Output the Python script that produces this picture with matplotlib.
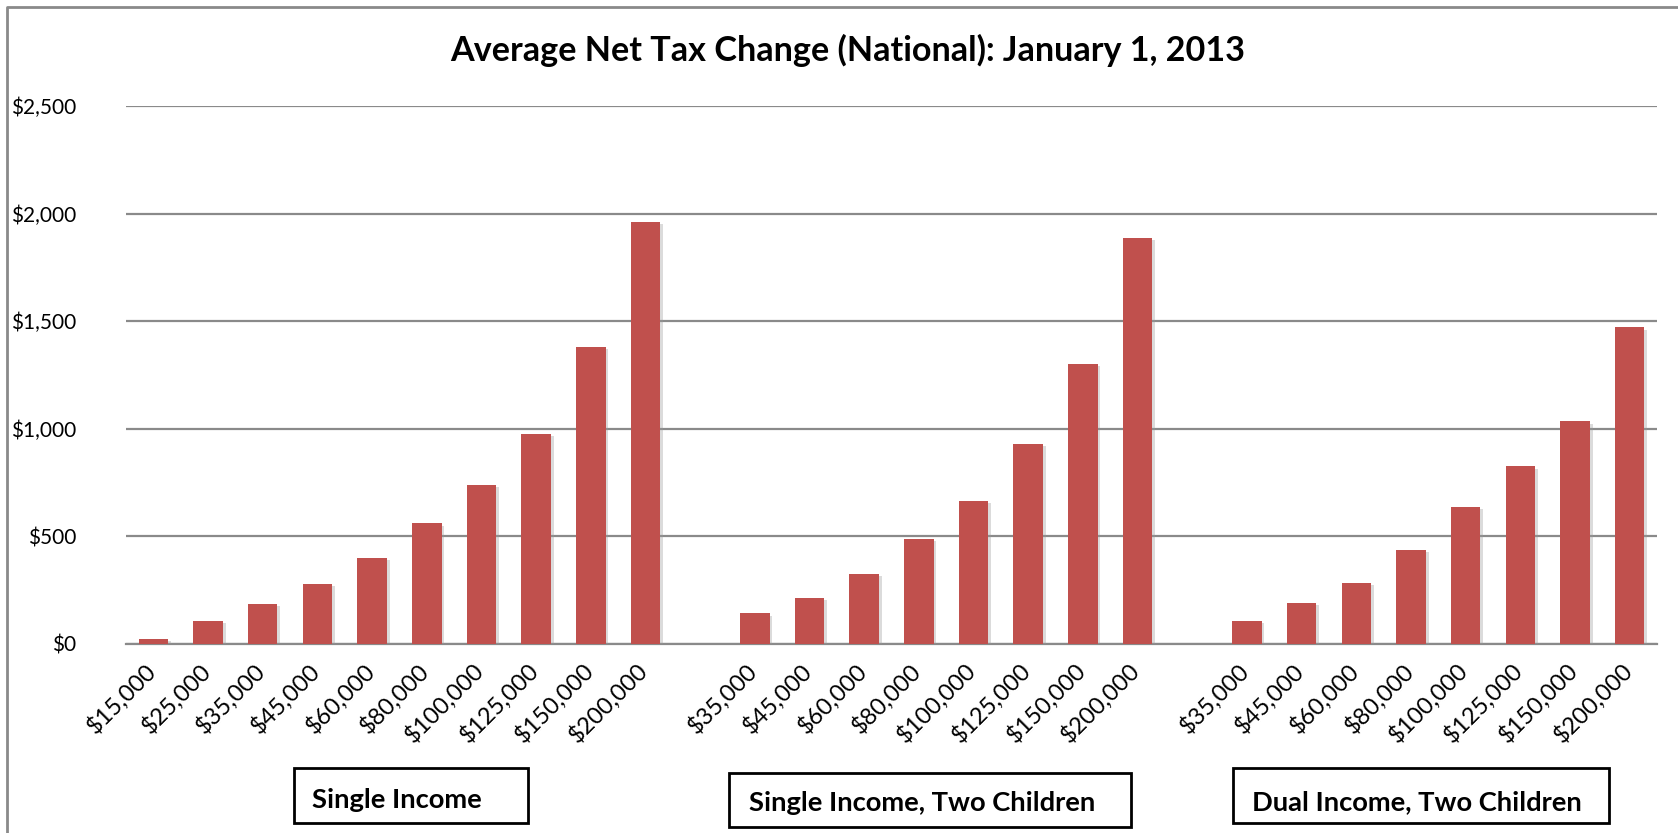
import matplotlib
matplotlib.use("Agg")
import matplotlib.pyplot as plt
import matplotlib.patheffects as pe
from matplotlib.patches import Rectangle
from matplotlib.lines import Line2D
from matplotlib.transforms import ScaledTranslation

plt.rcParams['font.family'] = ['Lato', 'DejaVu Sans']

# data
single_labels = ['$15,000', '$25,000', '$35,000', '$45,000', '$60,000',
                 '$80,000', '$100,000', '$125,000', '$150,000', '$200,000']
single_values = [23, 105, 187, 279, 400, 560, 738, 977, 1380, 1963]

kids_labels = ['$35,000', '$45,000', '$60,000', '$80,000',
               '$100,000', '$125,000', '$150,000', '$200,000']
single_kids_values = [142, 212, 325, 486, 664, 931, 1303, 1888]
dual_kids_values = [105, 192, 283, 435, 638, 825, 1034, 1471]

group_names = ['Single Income', 'Single Income, Two Children', 'Dual Income, Two Children']
yticks = [0, 500, 1000, 1500, 2000, 2500]

bar_color = '#C0504D'
grid_color = '#8a8a8a'

# lay the three groups out with one empty slot between them
groups = [(single_labels, single_values),
          (kids_labels, single_kids_values),
          (kids_labels, dual_kids_values)]
xs, heights, labels = [], [], []
pos = 0
for labs, vals in groups:
    for lab, v in zip(labs, vals):
        xs.append(pos)
        heights.append(v)
        labels.append(lab)
        pos += 1
    pos += 1
n_slots = pos - 1

fig = plt.figure(figsize=(16.78, 8.33), dpi=100)
ax = fig.add_axes([0.0751, 0.2269, 0.9124, 0.6458])

ax.bar(xs, heights, width=0.54, color=bar_color, zorder=3,
       path_effects=[pe.SimplePatchShadow(offset=(2, -1.5), shadow_rgbFace='#999999', alpha=0.35),
                     pe.Normal()])

ax.set_xlim(-0.5, n_slots - 0.5)
ax.set_ylim(0, 2500)
ax.set_yticks(yticks)
ax.set_yticklabels(['${:,}'.format(v) for v in yticks], fontsize=15)
ax.yaxis.grid(True, color=grid_color, linewidth=1.6, zorder=0)
ax.set_axisbelow(True)
for s in ['top', 'right', 'left']:
    ax.spines[s].set_visible(False)
ax.spines['bottom'].set_color(grid_color)
ax.spines['bottom'].set_linewidth(1.6)
ax.tick_params(axis='y', length=0, pad=36)
ax.tick_params(axis='x', length=0, pad=11)

ax.set_xticks(xs)
ax.set_xticklabels(labels, rotation=45, ha='right', va='top', fontsize=17)
shift = ScaledTranslation(7 / 100, 0, fig.dpi_scale_trans)
for lab in ax.get_xticklabels():
    lab.set_transform(lab.get_transform() + shift)

fig.text(0.505, 0.939, 'Average Net Tax Change (National): January 1, 2013',
         ha='center', va='center', fontsize=24.6, fontweight='bold')

# boxed group captions under the axis
boxes = [(0.1752, 0.012, 0.1395, 0.066, 0.186, 0.040, 'left'),
         (0.4344, 0.0072, 0.2396, 0.0648, 0.4464, 0.036, 'left'),
         (0.7348, 0.012, 0.2241, 0.066, 0.8442, 0.037, 'center')]
for (bx, by, bw, bh, tx, ty, ha), name in zip(boxes, group_names):
    fig.patches.append(Rectangle((bx, by), bw, bh, transform=fig.transFigure,
                                 fill=False, edgecolor='black', linewidth=2))
    fig.text(tx, ty, name, ha=ha, va='center', fontsize=19.7, fontweight='bold')

# outer chart frame (left and top edges visible)
fig.lines.append(Line2D([7 / 1678, 7 / 1678, 1.0], [0, 1 - 7 / 833, 1 - 7 / 833],
                        transform=fig.transFigure, color=grid_color, linewidth=2))

fig.savefig('out.png', dpi=100)
